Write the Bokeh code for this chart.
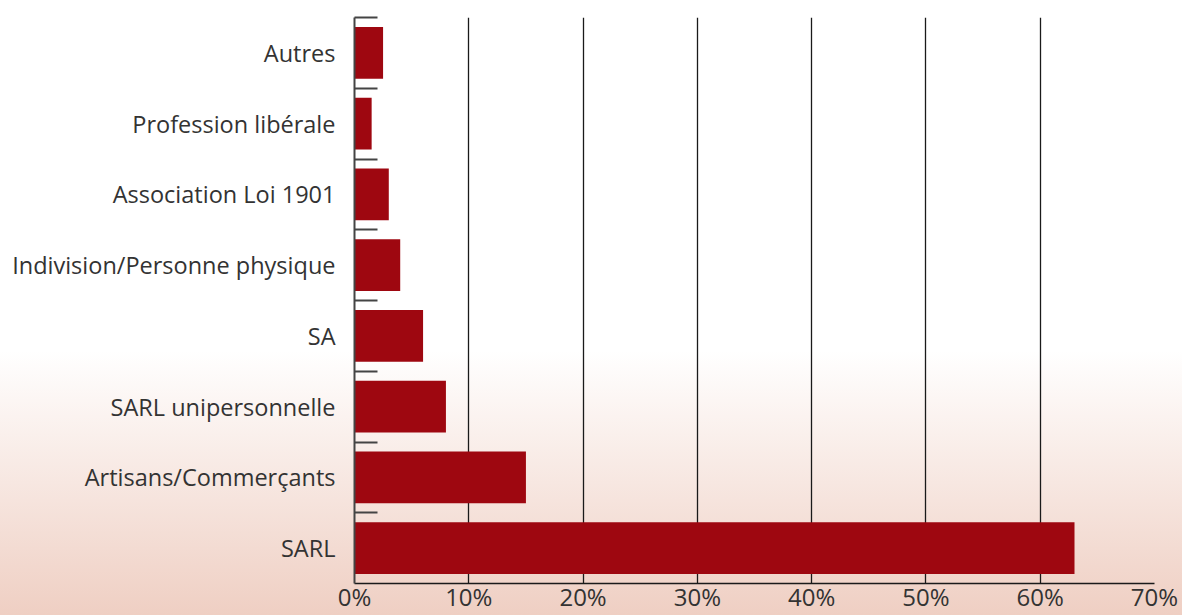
from bokeh.plotting import figure
from bokeh.models import FixedTicker, PrintfTickFormatter, Range1d, InlineStyleSheet
from bokeh.embed import file_html
from bokeh.resources import INLINE

categories = ["SARL", "Artisans/Commerçants", "SARL unipersonnelle", "SA",
              "Indivision/Personne physique", "Association Loi 1901",
              "Profession libérale", "Autres"]
values = [63, 15, 8, 6, 4, 3, 1.5, 2.5]
x_ticks = [0, 10, 20, 30, 40, 50, 60, 70]

FONT = "Open Sans"
n = len(categories)
centers = [i + 0.5 for i in range(n)]
bounds = [i + 1 for i in range(n)]

p = figure(width=1182, height=615, output_backend="svg", toolbar_location=None,
           x_range=Range1d(0, 70), y_range=Range1d(0, n),
           min_border_left=354, min_border_right=28, min_border_top=17, min_border_bottom=30)

p.stylesheets = [InlineStyleSheet(css=":host { background: linear-gradient(to bottom, #ffffff 0%, #ffffff 57%, #efcfc3 100%); }")]
p.background_fill_alpha = 0
p.border_fill_alpha = 0
p.outline_line_color = None

p.hbar(y=centers, right=values, left=0, height=0.73, color="#9e0710", line_color=None)

p.ygrid.grid_line_color = None
p.xgrid.ticker = FixedTicker(ticks=x_ticks)
p.xgrid.grid_line_color = "#1a1a1a"
p.xgrid.grid_line_width = 1.3

xa = p.xaxis[0]
xa.ticker = FixedTicker(ticks=x_ticks)
xa.formatter = PrintfTickFormatter(format="%d%%")
xa.major_tick_in = 0
xa.major_tick_out = 0
xa.minor_tick_in = 0
xa.minor_tick_out = 0
xa.axis_line_color = "#1a1a1a"
xa.axis_line_width = 1.5
xa.major_label_standoff = -4
xa.major_label_text_font = FONT
xa.major_label_text_font_size = "24px"
xa.major_label_text_color = "#333333"

ya = p.yaxis[0]
ya.ticker = FixedTicker(ticks=centers, minor_ticks=bounds)
ya.major_label_overrides = {c: lab for c, lab in zip(centers, categories)}
ya.major_tick_in = 0
ya.major_tick_out = 0
ya.minor_tick_in = 23
ya.minor_tick_out = 0
ya.minor_tick_line_color = "#444444"
ya.minor_tick_line_width = 1.8
ya.axis_line_color = "#444444"
ya.axis_line_width = 2
ya.major_label_standoff = 19
ya.major_label_text_font = FONT
ya.major_label_text_font_size = "23.5px"
ya.major_label_text_color = "#333333"

open("out.html", "w").write(file_html(p, INLINE))
